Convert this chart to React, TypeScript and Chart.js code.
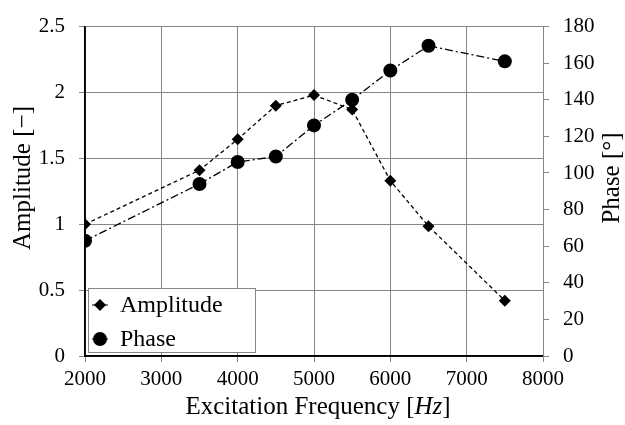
import React, { useEffect, useRef } from "react";
import { Chart, registerables } from "chart.js";

Chart.register(...registerables);

// ---- Data ----
const frequencies = [2000, 3500, 4000, 4500, 5000, 5500, 6000, 6500, 7500];
const amplitude = [1.0, 1.41, 1.645, 1.9, 1.98, 1.87, 1.33, 0.985, 0.42];
const phase = [63, 94, 106, 109, 126, 140, 156, 169.5, 161];
const seriesLabels = ["Amplitude", "Phase"];
const xTitleParts = ["Excitation Frequency [", "Hz", "]"];
const yLeftTitle = "Amplitude [\u2212]";
const yRightTitle = "Phase [\u00B0]";

const FONT = "'Liberation Serif', 'Times New Roman', serif";
const GRID = "#868686";

function drawMarker(ctx: CanvasRenderingContext2D, style: string, x: number, y: number, r: number) {
  ctx.beginPath();
  if (style === "rectRot") {
    ctx.moveTo(x - r, y);
    ctx.lineTo(x, y - r);
    ctx.lineTo(x + r, y);
    ctx.lineTo(x, y + r);
    ctx.closePath();
  } else {
    ctx.arc(x, y, r, 0, Math.PI * 2);
  }
  ctx.fill();
}

const plainTick = (v: any) => String(Math.round(Number(v) * 1000) / 1000);

const overlayPlugin = {
  id: "overlay",
  beforeDatasetsDraw(chart: any) {
    const { ctx, chartArea: a } = chart;
    ctx.save();
    ctx.strokeStyle = "#000";
    ctx.lineWidth = 1.5;
    ctx.beginPath();
    ctx.moveTo(a.left, a.top);
    ctx.lineTo(a.left, a.bottom);
    ctx.lineTo(a.right, a.bottom);
    ctx.stroke();
    ctx.restore();
  },
  afterDraw(chart: any) {
    const { ctx } = chart;
    ctx.save();
    // Legend box
    const bx = 88.5, by = 288.5, bw = 167, bh = 64;
    ctx.fillStyle = "#fff";
    ctx.fillRect(bx, by, bw, bh);
    ctx.strokeStyle = GRID;
    ctx.lineWidth = 1;
    ctx.strokeRect(bx, by, bw, bh);
    const rows = [305, 339];
    chart.data.datasets.forEach((ds: any, i: number) => {
      const y = rows[i];
      ctx.strokeStyle = "#000";
      ctx.lineWidth = 1;
      ctx.beginPath();
      ctx.moveTo(92, y);
      ctx.lineTo(108, y);
      ctx.stroke();
      ctx.fillStyle = "#000";
      drawMarker(ctx, ds.pointStyle, 100, y, ds.pointRadius);
      ctx.font = `24px ${FONT}`;
      ctx.textAlign = "left";
      ctx.textBaseline = "middle";
      ctx.fillText(ds.label, 120, y + 1);
    });

    // X title with italic unit
    ctx.fillStyle = "#000";
    ctx.textBaseline = "alphabetic";
    ctx.textAlign = "left";
    const normal = `25px ${FONT}`;
    const italic = `italic 25px ${FONT}`;
    ctx.font = normal;
    const w0 = ctx.measureText(xTitleParts[0]).width;
    const w2 = ctx.measureText(xTitleParts[2]).width;
    ctx.font = italic;
    const w1 = ctx.measureText(xTitleParts[1]).width;
    const total = w0 + w1 + w2;
    let x = 318 - total / 2;
    const yb = 414;
    ctx.font = normal;
    ctx.fillText(xTitleParts[0], x, yb);
    x += w0;
    ctx.font = italic;
    ctx.fillText(xTitleParts[1], x, yb);
    x += w1;
    ctx.font = normal;
    ctx.fillText(xTitleParts[2], x, yb);

    // Y titles
    ctx.font = normal;
    ctx.textAlign = "center";
    ctx.textBaseline = "middle";
    ctx.save();
    ctx.translate(23, 178);
    ctx.rotate(-Math.PI / 2);
    ctx.fillText(yLeftTitle, 0, 0);
    ctx.restore();
    ctx.save();
    ctx.translate(612, 178);
    ctx.rotate(-Math.PI / 2);
    ctx.fillText(yRightTitle, 0, 0);
    ctx.restore();
    ctx.restore();
  },
};

export default function App() {
  const canvasRef = useRef<HTMLCanvasElement | null>(null);

  useEffect(() => {
    const canvas = canvasRef.current;
    if (!canvas) return;
    const tickFont = { family: FONT, size: 21 };
    const chart = new Chart(canvas, {
      type: "line",
      data: {
        datasets: [
          {
            label: seriesLabels[0],
            data: frequencies.map((f, i) => ({ x: f, y: amplitude[i] })),
            yAxisID: "y",
            borderColor: "#000",
            backgroundColor: "#000",
            borderWidth: 1.3,
            borderDash: [4, 3],
            pointStyle: "rectRot",
            pointRadius: 6,
            pointBorderWidth: 0,
            tension: 0,
            fill: false,
          },
          {
            label: seriesLabels[1],
            data: frequencies.map((f, i) => ({ x: f, y: phase[i] })),
            yAxisID: "y1",
            borderColor: "#000",
            backgroundColor: "#000",
            borderWidth: 1.3,
            borderDash: [8, 3, 2, 3],
            pointStyle: "circle",
            pointRadius: 7,
            pointBorderWidth: 0,
            tension: 0,
            fill: false,
          },
        ],
      },
      options: {
        responsive: false,
        animation: false,
        layout: { padding: { top: 15, left: 0, right: 0, bottom: 0 } },
        plugins: {
          legend: { display: false },
          tooltip: { enabled: false },
        },
        scales: {
          x: {
            type: "linear",
            min: 2000,
            max: 8000,
            ticks: { stepSize: 1000, font: tickFont, color: "#000", padding: 5, maxRotation: 0, callback: plainTick },
            grid: { color: GRID, tickLength: 6, lineWidth: 1 },
            border: { color: "#000", width: 1.5 },
            afterFit: (s: any) => {
              s.height = 69;
            },
          },
          y: {
            type: "linear",
            position: "left",
            min: 0,
            max: 2.5,
            ticks: { stepSize: 0.5, font: tickFont, color: "#000", padding: 14, callback: plainTick },
            grid: { color: GRID, tickLength: 6, lineWidth: 1 },
            border: { color: "#000", width: 1.5 },
            afterFit: (s: any) => {
              s.width = 85;
            },
          },
          y1: {
            type: "linear",
            position: "right",
            min: 0,
            max: 180,
            ticks: { stepSize: 20, font: tickFont, color: "#000", padding: 14, callback: plainTick },
            grid: { color: GRID, tickLength: 6, drawOnChartArea: false },
            border: { color: GRID, width: 1 },
            afterFit: (s: any) => {
              s.width = 82;
            },
          },
        },
      },
      plugins: [overlayPlugin],
    });
    return () => chart.destroy();
  }, []);

  return (
    <div style={{ position: "absolute", left: 0, top: 0, width: 625, height: 425, background: "#fff" }}>
      <canvas ref={canvasRef} width={625} height={425} />
    </div>
  );
}
